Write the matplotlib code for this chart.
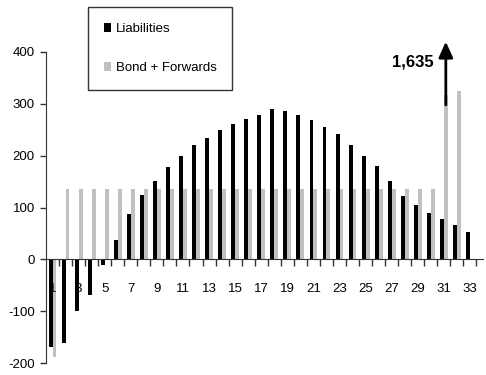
import matplotlib.pyplot as plt
import numpy as np
from matplotlib.patches import Patch

# annual cash flows
years = list(range(1, 34))
liabilities = [-169, -162, -100, -68, -11, 38, 88, 125, 152, 178, 200, 220, 235,
               249, 261, 271, 279, 290, 286, 279, 268, 255, 242, 220, 200, 180,
               152, 122, 104, 89, 77, 66, 52]
bond_forwards = [-188, 135, 135, 135, 135, 135, 135, 135, 135, 135, 135, 135, 135,
                 135, 135, 135, 135, 135, 135, 135, 135, 135, 135, 135, 135, 135,
                 135, 135, 135, 135, 1635, 325, 0]
y_ticks = [-200, -100, 0, 100, 200, 300, 400]

y_min, y_max = -200, 400
# bars beyond the top of the scale are cut at this height and get an arrow
cut_height = 318

plt.rcParams['font.family'] = ['Liberation Sans', 'DejaVu Sans']
plt.rcParams['font.size'] = 9.5
plt.rcParams['axes.unicode_minus'] = False

fig = plt.figure(figsize=(4.86, 3.75), dpi=100)
ax = fig.add_axes([46 / 486, 12 / 375, (483 - 46) / 486, 311 / 375])

x = np.array(years)
w = 0.3
bonds = np.array(bond_forwards, dtype=float)
off_scale = bonds > y_max
shown = np.where(off_scale, cut_height, bonds)

ax.bar(x - w / 2, liabilities, width=w, color='black', label='Liabilities', zorder=2)
ax.bar(x + w / 2, shown, width=w, color='#c0c0c0', label='Bond + Forwards', zorder=2)

# arrow and value for the off-scale bar
for xi, v in zip(x[off_scale], bonds[off_scale]):
    ax.annotate('', xy=(xi + w / 2, 420), xytext=(xi + w / 2, 298),
                arrowprops=dict(arrowstyle='-|>,head_length=1.0,head_width=0.45',
                                color='black', lw=2, shrinkA=0, shrinkB=0),
                annotation_clip=False, zorder=3)
    ax.text(xi + w / 2 - 0.95, 381, f'{v:,.0f}', ha='right', va='center',
            fontsize=12, fontweight='bold', zorder=3)

ax.set_xlim(0.5, 34.0)
ax.set_ylim(y_min, y_max)
ax.set_yticks(y_ticks)
ax.set_xticks(x[::2])
ax.set_xticklabels([str(v) for v in years[::2]])
ax.set_xticks(np.arange(1.5, 34, 1), minor=True)

ax.spines['top'].set_visible(False)
ax.spines['right'].set_visible(False)
ax.spines['bottom'].set_position(('data', 0))
ax.spines['left'].set_color('#333333')
ax.spines['bottom'].set_color('#333333')
# tick labels sit on top of the bars
ax.set_axisbelow(False)

ax.tick_params(axis='y', length=4, width=1, pad=4, color='#333333')
ax.tick_params(axis='x', which='major', length=0, pad=17)
ax.tick_params(axis='x', which='minor', length=5, width=1, color='#333333')

handles = [Patch(facecolor='black', label='Liabilities'),
           Patch(facecolor='#c0c0c0', label='Bond + Forwards')]
leg = fig.legend(handles=handles, loc='upper left',
                 bbox_to_anchor=(88 / 486, 1 - 7 / 375),
                 frameon=True, fancybox=False, edgecolor='black',
                 borderpad=1.2, labelspacing=2.05, handlelength=0.55,
                 handleheight=0.65, handletextpad=0.35, borderaxespad=0,
                 fontsize=9.5)
leg.get_frame().set_linewidth(1.0)

fig.savefig('out.png', dpi=100)
